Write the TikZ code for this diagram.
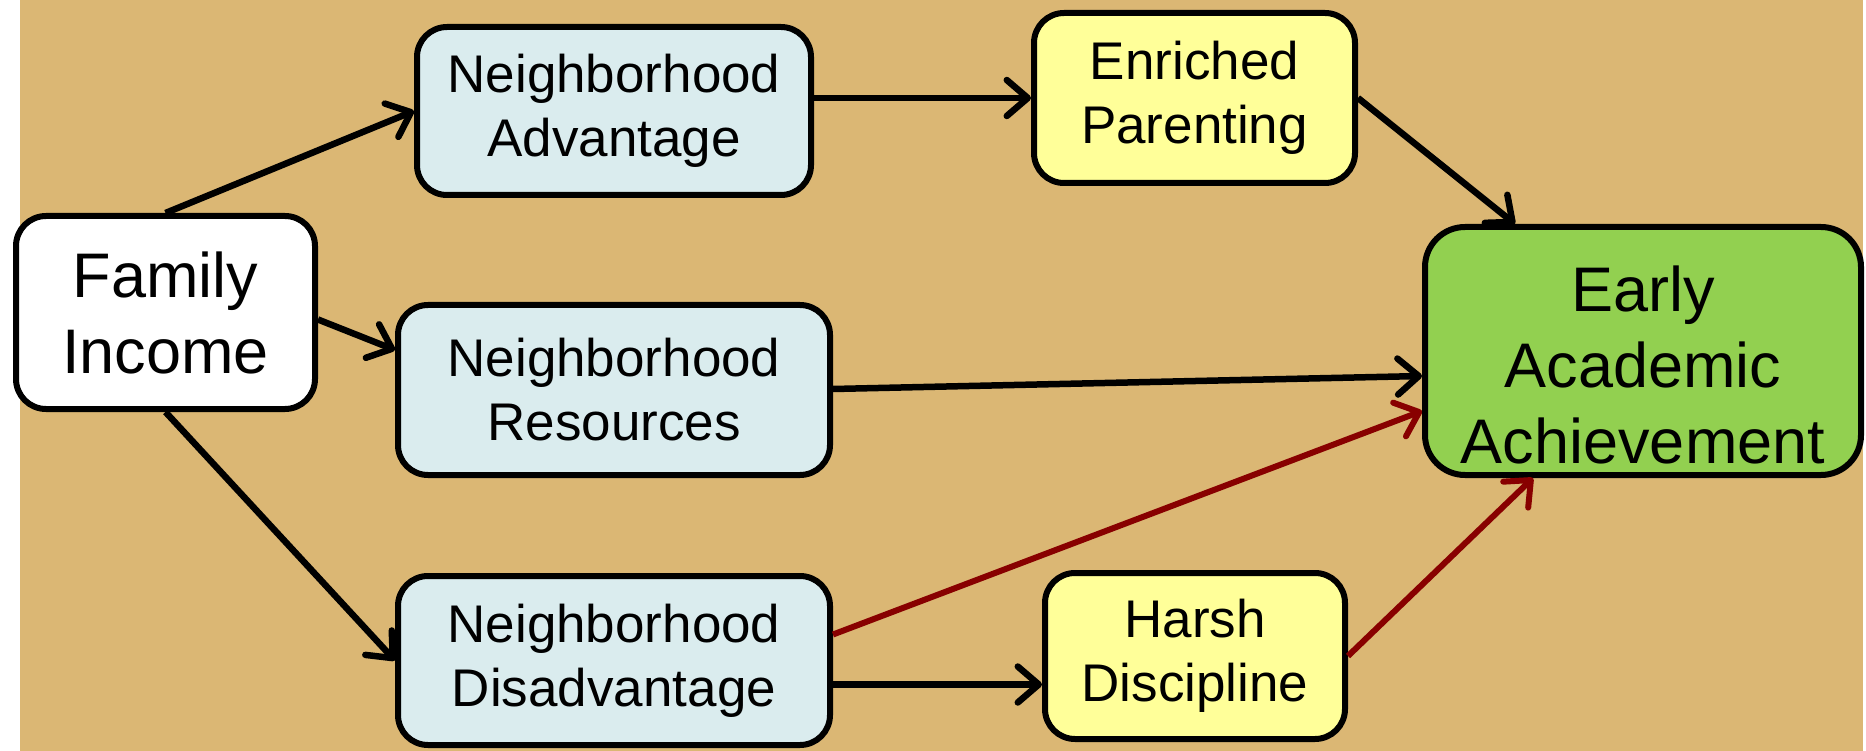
\documentclass[tikz,border=0pt]{standalone}
\usepackage{fontspec}
\setmainfont{Liberation Sans}
\usetikzlibrary{arrows.meta,calc}
\definecolor{bgtan}{HTML}{DBB774}
\definecolor{nbblue}{HTML}{DAECEE}
\definecolor{paryellow}{HTML}{FFFF99}
\definecolor{achgreen}{HTML}{92D050}
\definecolor{riskred}{HTML}{880000}
\begin{document}
\begin{tikzpicture}[x=1pt,y=-1pt,
  box/.style={draw=black, line width=6pt, rounded corners=30pt, align=center,
    inner sep=0pt, text=black},
  midfont/.style={font=\fontsize{53}{64}\selectfont},
  bigfont/.style={font=\fontsize{63}{76}\selectfont},
  nbox/.style={box, midfont, fill=nbblue},
  ybox/.style={box, midfont, fill=paryellow},
  link/.style={line width=6.5pt, draw=black,
    -{Straight Barb[length=21pt,width=36pt,round]}},
  risk/.style={link, line width=6pt, draw=riskred},
]
\useasboundingbox (0,0) rectangle (1866,751);
% page and textured backdrop
\fill[white] (0,0) rectangle (1866,751);
\fill[bgtan] (20,0) rectangle (1863,751);

% boxes
\node[box, bigfont, fill=white, minimum width=299pt, minimum height=193pt]
  (fam) at (165.5,312.5) {Family\\Income};
\node[nbox, minimum width=394pt, minimum height=168pt]
  (adv) at (614,111) {Neighborhood\\Advantage};
\node[nbox, minimum width=432pt, minimum height=170pt]
  (res) at (614,390) {Neighborhood\\Resources};
\node[nbox, minimum width=432pt, minimum height=169pt]
  (dis) at (614,660.5) {Neighborhood\\Disadvantage};
\node[ybox, minimum width=321pt, minimum height=170pt]
  (enr) at (1194.5,98) {Enriched\\Parenting};
\node[ybox, minimum width=300pt, minimum height=166pt]
  (har) at (1195,656) {Harsh\\Discipline};
\node[box, bigfont, fill=achgreen, rounded corners=40pt,
  minimum width=436pt, minimum height=248pt]
  (ear) at (1643,351) {\rule{0pt}{73pt}Early\\Academic\\Achievement};

% paths
\draw[link] (fam.north) -- (adv.west);
\draw[link] ($(fam.east)+(0,7)$) -- ($(res.west)+(0,-40)$);
\draw[link] (fam.south) -- (dis.west);
\draw[link] (adv.east |- enr.west) -- (enr.west);
\draw[link] (enr.east) -- ($(ear.north)+(-128,0)$);
\draw[link] ($(res.east)+(0,-1)$) -- ($(ear.west)+(0,25)$);
\draw[risk] ($(dis.east)+(0,-26)$) -- ($(ear.west)+(0,60)$);
\draw[link] ($(dis.east)+(0,24)$) coordinate (d1) -- (d1 -| har.west);
\draw[risk] (har.east) -- ($(ear.south)+(-110,0)$);
\end{tikzpicture}
\end{document}
